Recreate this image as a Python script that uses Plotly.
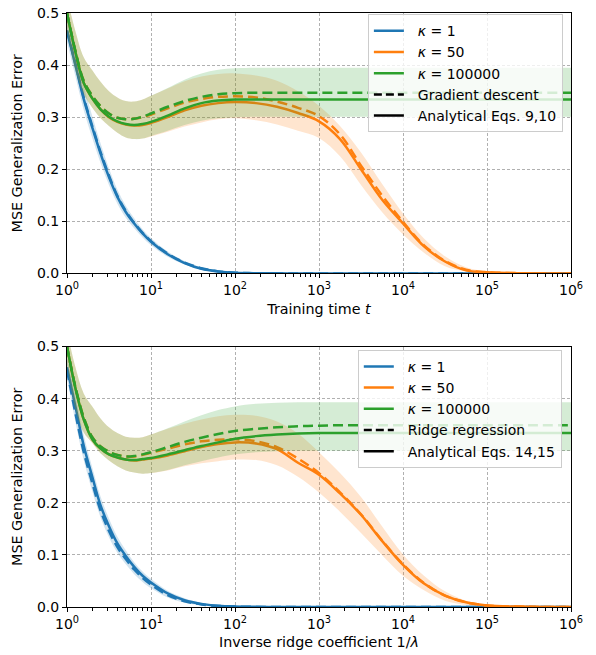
import plotly.graph_objects as go

# ---------------- data ----------------
# common x grid (training time t  /  inverse ridge coefficient 1/lambda)
x_vals = [1, 1.26, 1.58, 2, 2.51, 3.16, 3.98, 5.01, 6.31, 7.94,
          10, 15.8, 25.1, 39.8, 63.1, 100, 178, 316, 562, 1000,
          1778, 3162, 5623, 10000, 17783, 31623, 56234, 100000, 316228, 1000000]

x_tick_vals = [1, 10, 100, 1000, 10000, 100000, 1000000]
x_tick_text = ["10<sup>0</sup>", "10<sup>1</sup>", "10<sup>2</sup>", "10<sup>3</sup>",
               "10<sup>4</sup>", "10<sup>5</sup>", "10<sup>6</sup>"]
y_tick_vals = [0.0, 0.1, 0.2, 0.3, 0.4, 0.5]

kappa_labels = ["<i>κ</i> = 1", "<i>κ</i> = 50", "<i>κ</i> = 100000"]

# ---- top panel: gradient descent vs training time ----
top_blue_solid = [0.465, 0.40, 0.335, 0.28, 0.23, 0.185, 0.147, 0.118, 0.096, 0.077,
                  0.061, 0.037, 0.02, 0.009, 0.004, 0.0015, 0.0005, 0.0002, 0, 0,
                  0, 0, 0, 0, 0, 0, 0, 0, 0, 0]
top_blue_dash = [0.467, 0.403, 0.338, 0.283, 0.233, 0.188, 0.149, 0.12, 0.097, 0.078,
                 0.062, 0.038, 0.021, 0.01, 0.004, 0.0015, 0.0005, 0.0002, 0, 0,
                 0, 0, 0, 0, 0, 0, 0, 0, 0, 0]
top_blue_hi = [0.49, 0.425, 0.36, 0.302, 0.25, 0.202, 0.161, 0.13, 0.106, 0.085,
               0.068, 0.042, 0.024, 0.012, 0.005, 0.002, 0.001, 0.0003, 0, 0,
               0, 0, 0, 0, 0, 0, 0, 0, 0, 0]
top_blue_lo = [0.445, 0.378, 0.314, 0.26, 0.212, 0.17, 0.134, 0.107, 0.087, 0.069,
               0.054, 0.032, 0.017, 0.007, 0.002, 0.0005, 0, 0, 0, 0,
               0, 0, 0, 0, 0, 0, 0, 0, 0, 0]

top_orange_solid = [0.50, 0.425, 0.366, 0.336, 0.315, 0.30, 0.291, 0.286, 0.284, 0.285,
                    0.289, 0.30, 0.313, 0.322, 0.327, 0.329, 0.327, 0.32, 0.308, 0.292,
                    0.258, 0.20, 0.142, 0.096, 0.052, 0.023, 0.006, 0.0025, 0.0003, 0]
top_orange_dash = [0.50, 0.427, 0.37, 0.341, 0.321, 0.307, 0.299, 0.296, 0.297, 0.30,
                   0.305, 0.317, 0.328, 0.335, 0.339, 0.34, 0.338, 0.33, 0.318, 0.302,
                   0.267, 0.207, 0.15, 0.099, 0.054, 0.024, 0.007, 0.0025, 0.0003, 0]
top_orange_hi = [0.53, 0.465, 0.415, 0.39, 0.368, 0.35, 0.338, 0.331, 0.33, 0.334,
                 0.341, 0.355, 0.369, 0.378, 0.383, 0.384, 0.38, 0.37, 0.35, 0.322,
                 0.283, 0.232, 0.172, 0.115, 0.067, 0.033, 0.012, 0.004, 0.001, 0]
top_orange_lo = [0.465, 0.39, 0.345, 0.318, 0.298, 0.283, 0.27, 0.261, 0.258, 0.259,
                 0.263, 0.272, 0.282, 0.29, 0.296, 0.298, 0.294, 0.286, 0.274, 0.26,
                 0.225, 0.17, 0.118, 0.075, 0.04, 0.014, 0.004, 0.001, 0, 0]

top_green_solid = [0.50, 0.425, 0.366, 0.336, 0.315, 0.301, 0.292, 0.287, 0.285, 0.287,
                   0.291, 0.303, 0.317, 0.327, 0.332, 0.334, 0.334, 0.334, 0.334, 0.334,
                   0.334, 0.334, 0.334, 0.334, 0.334, 0.334, 0.334, 0.334, 0.334, 0.334]
top_green_dash = [0.50, 0.427, 0.37, 0.341, 0.321, 0.307, 0.299, 0.296, 0.297, 0.301,
                  0.307, 0.32, 0.331, 0.339, 0.344, 0.346, 0.347, 0.347, 0.347, 0.347,
                  0.347, 0.347, 0.347, 0.347, 0.347, 0.347, 0.347, 0.347, 0.347, 0.347]
top_green_hi = [0.53, 0.465, 0.415, 0.39, 0.368, 0.35, 0.338, 0.331, 0.33, 0.334,
                0.341, 0.356, 0.372, 0.384, 0.391, 0.394, 0.395, 0.395, 0.395, 0.395,
                0.395, 0.395, 0.395, 0.395, 0.395, 0.395, 0.395, 0.395, 0.395, 0.395]
top_green_lo = [0.465, 0.39, 0.345, 0.318, 0.298, 0.283, 0.27, 0.261, 0.258, 0.259,
                0.264, 0.274, 0.285, 0.293, 0.298, 0.30, 0.301, 0.301, 0.301, 0.301,
                0.301, 0.301, 0.301, 0.301, 0.301, 0.301, 0.301, 0.301, 0.301, 0.301]

# ---- bottom panel: ridge regression vs inverse ridge coefficient ----
bot_blue_solid = [0.46, 0.385, 0.31, 0.25, 0.195, 0.155, 0.122, 0.098, 0.077, 0.06,
                  0.047, 0.026, 0.013, 0.006, 0.0025, 0.001, 0.0003, 0, 0, 0,
                  0, 0, 0, 0, 0, 0, 0, 0, 0, 0]
bot_blue_dash = [0.455, 0.372, 0.298, 0.238, 0.185, 0.146, 0.115, 0.092, 0.072, 0.056,
                 0.043, 0.023, 0.011, 0.005, 0.002, 0.0008, 0.0002, 0, 0, 0,
                 0, 0, 0, 0, 0, 0, 0, 0, 0, 0]
bot_blue_hi = [0.48, 0.405, 0.33, 0.268, 0.212, 0.17, 0.135, 0.109, 0.086, 0.068,
               0.054, 0.031, 0.017, 0.008, 0.004, 0.0015, 0.0005, 0, 0, 0,
               0, 0, 0, 0, 0, 0, 0, 0, 0, 0]
bot_blue_lo = [0.44, 0.355, 0.282, 0.222, 0.172, 0.134, 0.104, 0.082, 0.063, 0.048,
               0.036, 0.018, 0.008, 0.003, 0.001, 0.0003, 0, 0, 0, 0,
               0, 0, 0, 0, 0, 0, 0, 0, 0, 0]

bot_orange_solid = [0.50, 0.42, 0.36, 0.322, 0.304, 0.293, 0.287, 0.283, 0.281, 0.283,
                    0.285, 0.291, 0.299, 0.307, 0.313, 0.316, 0.314, 0.303, 0.277, 0.254,
                    0.218, 0.177, 0.127, 0.081, 0.045, 0.022, 0.009, 0.003, 0.0005, 0]
bot_orange_dash = [0.50, 0.422, 0.364, 0.326, 0.308, 0.298, 0.292, 0.289, 0.289, 0.292,
                   0.296, 0.304, 0.312, 0.318, 0.321, 0.322, 0.318, 0.307, 0.285, 0.257,
                   0.22, 0.178, 0.128, 0.082, 0.046, 0.022, 0.009, 0.003, 0.0005, 0]
bot_orange_hi = [0.53, 0.46, 0.41, 0.385, 0.362, 0.345, 0.334, 0.327, 0.325, 0.326,
                 0.331, 0.342, 0.352, 0.36, 0.366, 0.369, 0.367, 0.356, 0.333, 0.297,
                 0.257, 0.211, 0.155, 0.101, 0.06, 0.03, 0.012, 0.004, 0.001, 0]
bot_orange_lo = [0.465, 0.38, 0.335, 0.315, 0.295, 0.281, 0.27, 0.262, 0.258, 0.256,
                 0.257, 0.262, 0.27, 0.276, 0.28, 0.283, 0.282, 0.272, 0.25, 0.22,
                 0.183, 0.142, 0.10, 0.06, 0.032, 0.012, 0.004, 0.001, 0, 0]

bot_green_solid = [0.50, 0.42, 0.36, 0.322, 0.304, 0.293, 0.287, 0.283, 0.282, 0.284,
                   0.286, 0.293, 0.301, 0.309, 0.316, 0.323, 0.328, 0.331, 0.333, 0.334,
                   0.334, 0.334, 0.334, 0.334, 0.334, 0.334, 0.334, 0.334, 0.334, 0.334]
bot_green_dash = [0.50, 0.422, 0.364, 0.326, 0.308, 0.298, 0.292, 0.289, 0.29, 0.293,
                  0.297, 0.307, 0.317, 0.325, 0.332, 0.338, 0.342, 0.345, 0.347, 0.348,
                  0.349, 0.349, 0.349, 0.349, 0.349, 0.349, 0.349, 0.349, 0.349, 0.349]
bot_green_hi = [0.53, 0.46, 0.41, 0.385, 0.362, 0.345, 0.334, 0.327, 0.325, 0.326,
                0.331, 0.343, 0.356, 0.368, 0.378, 0.385, 0.39, 0.392, 0.393, 0.393,
                0.393, 0.393, 0.393, 0.393, 0.393, 0.393, 0.393, 0.393, 0.393, 0.393]
bot_green_lo = [0.465, 0.38, 0.335, 0.315, 0.295, 0.281, 0.27, 0.262, 0.258, 0.256,
                0.257, 0.263, 0.272, 0.28, 0.287, 0.293, 0.297, 0.299, 0.30, 0.30,
                0.30, 0.30, 0.30, 0.30, 0.30, 0.30, 0.30, 0.30, 0.30, 0.30]

# ---------------- styling ----------------
colors = ["#1f77b4", "#ff7f0e", "#2ca02c"]
fills = ["rgba(31,119,180,0.2)", "rgba(255,127,14,0.2)", "rgba(44,160,44,0.2)"]
LW = 2.5
DASH = "10px,5px"
PAD = "\u00a0\u00a0"  # small gap between legend sample and text

panels = [
    dict(xa="x", ya="y", legend="legend",
         series=[(top_blue_solid, top_blue_dash, top_blue_hi, top_blue_lo),
                 (top_orange_solid, top_orange_dash, top_orange_hi, top_orange_lo),
                 (top_green_solid, top_green_dash, top_green_hi, top_green_lo)],
         dash_name="Gradient descent", solid_name="Analytical Eqs. 9,10"),
    dict(xa="x2", ya="y2", legend="legend2",
         series=[(bot_blue_solid, bot_blue_dash, bot_blue_hi, bot_blue_lo),
                 (bot_orange_solid, bot_orange_dash, bot_orange_hi, bot_orange_lo),
                 (bot_green_solid, bot_green_dash, bot_green_hi, bot_green_lo)],
         dash_name="Ridge regression", solid_name="Analytical Eqs. 14,15"),
]

fig = go.Figure()
for p in panels:
    for i, (solid, dash, hi, lo) in enumerate(p["series"]):
        fig.add_trace(go.Scatter(x=x_vals, y=lo, mode="lines", line=dict(width=0, shape="spline"),
                                 xaxis=p["xa"], yaxis=p["ya"], showlegend=False, hoverinfo="skip"))
        fig.add_trace(go.Scatter(x=x_vals, y=hi, mode="lines", line=dict(width=0, shape="spline"),
                                 fill="tonexty", fillcolor=fills[i],
                                 xaxis=p["xa"], yaxis=p["ya"], showlegend=False, hoverinfo="skip"))
        fig.add_trace(go.Scatter(x=x_vals, y=solid, mode="lines",
                                 line=dict(color=colors[i], width=LW, shape="spline"),
                                 xaxis=p["xa"], yaxis=p["ya"], showlegend=False))
        fig.add_trace(go.Scatter(x=x_vals, y=dash, mode="lines",
                                 line=dict(color=colors[i], width=LW, shape="spline", dash=DASH),
                                 xaxis=p["xa"], yaxis=p["ya"], showlegend=False))
    # legend entries
    for i in range(3):
        fig.add_trace(go.Scatter(x=[None], y=[None], mode="lines", name=PAD + kappa_labels[i],
                                 line=dict(color=colors[i], width=LW),
                                 xaxis=p["xa"], yaxis=p["ya"], legend=p["legend"]))
    fig.add_trace(go.Scatter(x=[None], y=[None], mode="lines", name=PAD + p["dash_name"],
                             line=dict(color="black", width=LW, dash="8px,4px"),
                             xaxis=p["xa"], yaxis=p["ya"], legend=p["legend"]))
    fig.add_trace(go.Scatter(x=[None], y=[None], mode="lines", name=PAD + p["solid_name"],
                             line=dict(color="black", width=LW),
                             xaxis=p["xa"], yaxis=p["ya"], legend=p["legend"]))

# minor tick positions of the log axis (2..9 within each decade)
minor_ticks = [m * 10 ** k for k in range(6) for m in range(2, 10)]

axis_common = dict(showline=True, linecolor="black", linewidth=1, mirror=True,
                   ticks="outside", ticklen=4, tickwidth=1, tickcolor="black",
                   showgrid=True, gridcolor="#b0b0b0", gridwidth=0.8, griddash="3px,2px",
                   zeroline=False, tickfont=dict(size=14))

xcommon = dict(axis_common, type="log", range=[0, 6], tickvals=x_tick_vals, ticktext=x_tick_text,
               minor=dict(tickvals=minor_ticks, ticks="outside", ticklen=2.5, tickwidth=0.8,
                          tickcolor="black", showgrid=False))
ycommon = dict(axis_common, range=[0, 0.5], tickvals=y_tick_vals, tickformat=".1f",
               title=dict(text="MSE Generalization Error", standoff=10, font=dict(size=14.3)))

top_dom = [0.5615, 1.0]
bot_dom = [0.0, 0.4385]

legend_common = dict(xanchor="left", yanchor="top", traceorder="normal",
                     bgcolor="rgba(255,255,255,0.8)", bordercolor="#cccccc", borderwidth=1,
                     font=dict(size=14), itemwidth=30, tracegroupgap=0)

fig.update_layout(
    width=596, height=655,
    margin=dict(l=67, r=25, t=5, b=48),
    paper_bgcolor="white", plot_bgcolor="white",
    font=dict(family="DejaVu Sans", size=14, color="black"),
    xaxis=dict(xcommon, domain=[0, 1], anchor="y",
               title=dict(text="Training time <i>t</i>", standoff=6, font=dict(size=14.3))),
    yaxis=dict(ycommon, domain=top_dom, anchor="x"),
    xaxis2=dict(xcommon, domain=[0, 1], anchor="y2",
                title=dict(text="Inverse ridge coefficient 1/<i>λ</i>", standoff=6,
                           font=dict(size=14.3))),
    yaxis2=dict(ycommon, domain=bot_dom, anchor="x2"),
    legend=dict(legend_common, x=0.597, y=0.998),
    legend2=dict(legend_common, x=0.577, y=0.433),
    showlegend=True,
)

fig.write_html("out.html", config={"displayModeBar": False},
               post_script="document.body.style.margin='0px';")
